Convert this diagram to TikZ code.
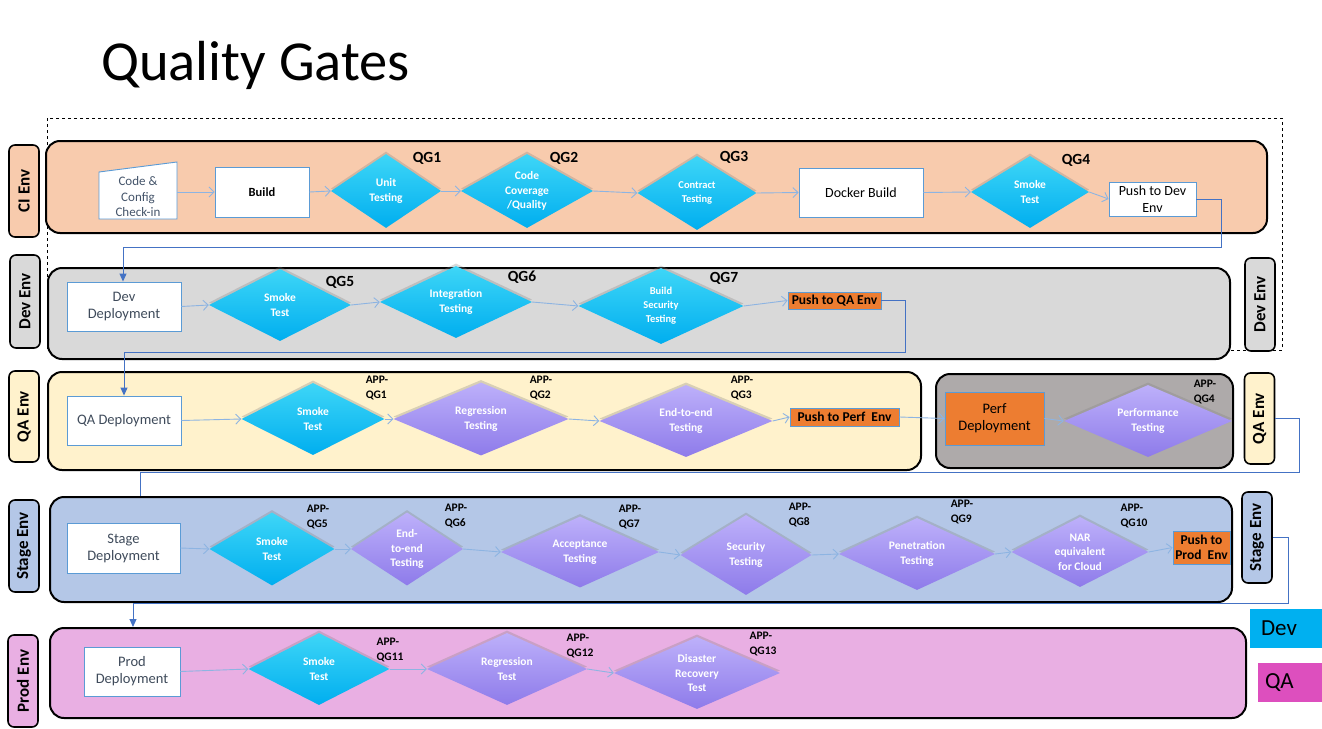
\documentclass[tikz,border=0pt]{standalone}
\usepackage{fontspec}
\setmainfont{Carlito}
\usepackage{xcolor}
\definecolor{ciFill}{HTML}{F8CBAD}
\definecolor{devFill}{HTML}{D9D9D9}
\definecolor{qaFill}{HTML}{FFF2CC}
\definecolor{perfFill}{HTML}{AEAAAA}
\definecolor{stageFill}{HTML}{B4C7E7}
\definecolor{prodFill}{HTML}{E9AFE3}
\definecolor{boxblue}{HTML}{5B9BD5}
\definecolor{flowblue}{HTML}{8DB4E2}
\definecolor{hopblue}{HTML}{4472C4}
\definecolor{pushorange}{HTML}{ED7D31}
\definecolor{stepgrey}{HTML}{3F4B5B}
\definecolor{chkText}{HTML}{44546A}
\definecolor{cyanTop}{HTML}{3ED6F7}
\definecolor{cyanBot}{HTML}{00AEEF}
\definecolor{lilacTop}{HTML}{BDB0FA}
\definecolor{lilacBot}{HTML}{8E7BEA}
\definecolor{keyCyan}{HTML}{00B0F0}
\definecolor{keyPink}{HTML}{DD4FBE}
\usetikzlibrary{shapes.geometric, arrows.meta, shadows}

\begin{document}
\begin{tikzpicture}[x=1pt, y=-1pt,
	envrow/.style={draw=black, line width=2pt, rounded corners=14pt, inner sep=0pt},
	envtag/.style={draw=black, line width=1.6pt, rounded corners=6pt, rotate=90, minimum height=30pt, inner sep=0pt, font=\fontsize{17}{19}\selectfont\bfseries},
	stepbox/.style={draw=boxblue, line width=0.9pt, fill=white, inner sep=1pt, align=center, text=stepgrey, font=\fontsize{14.5}{17}\selectfont},
	pushbox/.style={stepbox, fill=pushorange, text=black, font=\fontsize{13.5}{15.5}\selectfont\bfseries},
	gate/.style={diamond, draw=none, inner sep=0pt, drop shadow={shadow xshift=0pt, shadow yshift=2.5pt, opacity=0.3}},
	devgate/.style={gate, top color=cyanTop, bottom color=cyanBot},
	qagate/.style={gate, top color=lilacTop, bottom color=lilacBot},
	gatetext/.style={text=white, align=center, inner sep=0pt, font=\fontsize{11.5}{14.5}\selectfont\bfseries},
	qgtag/.style={inner sep=0pt, font=\fontsize{15.5}{17}\selectfont\bfseries},
	apptag/.style={align=left, inner sep=0pt, font=\fontsize{11.5}{15.5}\selectfont\bfseries},
	flow/.style={draw=flowblue, line width=0.9pt, -{Straight Barb[length=5pt, width=10pt]}},
	hop/.style={draw=hopblue, line width=1pt},
	hoparr/.style={hop, -{Triangle[length=8pt, width=7pt]}},
	key/.style={minimum height=39pt, inner sep=0pt, align=left, text width=50pt, text=black, font=\fontsize{23}{25}\selectfont}
	]
	\useasboundingbox (0,0) rectangle (1322,728);

	% title and dashed frame
	\node[anchor=base west, inner sep=0pt, font=\fontsize{56.5}{62}\selectfont] (title) at (101,80) {Quality Gates};
	\draw[dashed, line width=0.8pt] (47,118) rectangle (1282,350);

	% environment rows
	\node[envrow, fill=ciFill, minimum width=1221pt, minimum height=92pt] (ciRow) at (656.5,187) {};
	\node[envrow, fill=devFill, minimum width=1182pt, minimum height=91pt] (devRow) at (639,313.5) {};
	\node[envrow, fill=qaFill, minimum width=873pt, minimum height=98pt] (qaRow) at (484.5,421) {};
	\node[envrow, fill=perfFill, minimum width=297pt, minimum height=94pt] (perfRow) at (1084.5,421) {};
	\node[envrow, fill=stageFill, minimum width=1182pt, minimum height=105pt] (stgRow) at (641,549.5) {};
	\node[envrow, fill=prodFill, minimum width=1196pt, minimum height=90pt] (prodRow) at (648,673) {};

	% side tags
	\node[envtag, fill=ciFill, minimum width=92pt] (ciL) at (24,191) {CI Env};
	\node[envtag, fill=devFill, minimum width=93pt] (devL) at (25,301.5) {Dev Env};
	\node[envtag, fill=devFill, minimum width=93pt] (devR) at (1260,304.5) {Dev Env};
	\node[envtag, fill=qaFill, minimum width=91pt] (qaL) at (24,416.5) {QA Env};
	\node[envtag, fill=qaFill, minimum width=91pt] (qaR) at (1259.5,418.5) {QA Env};
	\node[envtag, fill=stageFill, minimum width=92pt] (stgL) at (24,546) {Stage Env};
	\node[envtag, fill=stageFill, minimum width=91pt] (stgR) at (1257,537.5) {Stage Env};
	\node[envtag, fill=prodFill, minimum width=92pt] (prodL) at (23,681) {Prod Env};

	% CI Env
	\filldraw[draw=boxblue, line width=0.9pt, fill=white] (99,219) -- (177,219) -- (177,162) -- (99,172) -- cycle;
	\node[stepbox, draw=none, fill=none, minimum width=78pt, minimum height=46pt, text=chkText, font=\fontsize{13}{15.5}\selectfont] (chk) at (138,197) {Code \&\\Config\\Check-in};
	\node[stepbox, text=black, minimum width=94pt, minimum height=50pt, font=\fontsize{12.5}{15}\selectfont\bfseries] (build) at (262,192) {Build};
	\node[devgate, minimum width=110pt, minimum height=74pt, label={[gatetext]center:Unit\\Testing}] (unit) at (386,191) {};
	\node[devgate, minimum width=132pt, minimum height=74pt, label={[gatetext]center:Code\\Coverage\\/Quality}] (cov) at (527,191) {};
	\node[devgate, minimum width=119pt, minimum height=74pt, label={[gatetext, font=\fontsize{10.5}{14}\selectfont\bfseries]center:Contract\\Testing}] (contract) at (697,193) {};
	\node[stepbox, text=black, minimum width=124pt, minimum height=49pt, font=\fontsize{14}{16.5}\selectfont] (docker) at (861,192.5) {Docker Build};
	\node[devgate, minimum width=118pt, minimum height=72pt, label={[gatetext]center:Smoke\\Test}] (smokeCI) at (1030,192) {};
	\node[stepbox, text=black, minimum width=87pt, minimum height=34pt, font=\fontsize{14}{16.5}\selectfont] (pushDev) at (1152.5,199) {Push to Dev\\Env};

	% Dev Env
	\node[stepbox, minimum width=114pt, minimum height=49pt] (devDep) at (124,306.5) {Dev\\Deployment};
	\node[devgate, minimum width=142pt, minimum height=72pt, label={[gatetext]center:Smoke\\Test}] (smokeDev) at (280,305) {};
	\node[devgate, minimum width=152pt, minimum height=72pt, label={[gatetext]center:Integration\\Testing}] (integ) at (456,302) {};
	\node[devgate, minimum width=165pt, minimum height=76pt, label={[gatetext, font=\fontsize{10.5}{14}\selectfont\bfseries]center:Build\\Security\\Testing}] (bsec) at (661,306) {};
	\node[pushbox, minimum width=93pt, minimum height=17pt] (pushQA) at (834.5,300.5) {Push to QA Env};

	% QA Env and perf
	\node[stepbox, minimum width=114pt, minimum height=49pt] (qaDep) at (124,420.5) {QA Deployment};
	\node[devgate, minimum width=143pt, minimum height=72pt, label={[gatetext]center:Smoke\\Test}] (smokeQA) at (313,419) {};
	\node[qagate, minimum width=175pt, minimum height=73pt, label={[gatetext]center:Regression\\Testing}] (regQA) at (481,419) {};
	\node[qagate, minimum width=173pt, minimum height=72pt, label={[gatetext]center:End-to-end\\Testing}] (e2eQA) at (686,421) {};
	\node[pushbox, minimum width=109pt, minimum height=18pt] (pushPerf) at (844.5,417) {Push to Perf~~Env};
	\node[stepbox, fill=pushorange, text=black, minimum width=99pt, minimum height=53pt] (perfDep) at (994.5,418.5) {Perf\\Deployment};
	\node[qagate, minimum width=168pt, minimum height=72pt, label={[gatetext]center:Performance\\Testing}] (perfT) at (1148,421) {};

	% Stage Env
	\node[stepbox, minimum width=113pt, minimum height=50pt] (stgDep) at (123.5,548) {Stage\\Deployment};
	\node[devgate, minimum width=125pt, minimum height=73pt, label={[gatetext]center:Smoke\\Test}] (smokeStg) at (272,549) {};
	\node[qagate, minimum width=112pt, minimum height=73pt, label={[gatetext]center:End-\\to-end\\Testing}] (e2eStg) at (407,549) {};
	\node[qagate, minimum width=158pt, minimum height=71pt, label={[gatetext]center:Acceptance\\Testing}] (accept) at (580,552) {};
	\node[qagate, minimum width=131pt, minimum height=80pt, label={[gatetext]center:Security\\Testing}] (secur) at (746,555) {};
	\node[qagate, minimum width=156pt, minimum height=72pt, label={[gatetext]center:Penetration\\Testing}] (penet) at (917,554) {};
	\node[qagate, minimum width=137pt, minimum height=70pt, label={[gatetext]center:NAR\\equivalent\\for Cloud}] (nar) at (1080,552) {};
	\node[pushbox, minimum width=57pt, minimum height=33pt] (pushProd) at (1201.5,547.5) {Push to\\Prod~~Env};

	% Prod Env
	\node[stepbox, minimum width=96pt, minimum height=49pt] (prodDep) at (132,671.5) {Prod\\Deployment};
	\node[devgate, minimum width=141pt, minimum height=72pt, label={[gatetext]center:Smoke\\Test}] (smokeProd) at (319,669) {};
	\node[qagate, minimum width=160pt, minimum height=72pt, label={[gatetext]center:Regression\\Test}] (regProd) at (507,669) {};
	\node[qagate, minimum width=166pt, minimum height=72pt, label={[gatetext]center:Disaster\\Recovery\\Test}] (disas) at (697,673) {};

	% gate tags
	\node[qgtag] (qg1) at (427,158) {QG1};
	\node[qgtag] (qg2) at (564,158) {QG2};
	\node[qgtag] (qg3) at (734,157) {QG3};
	\node[qgtag] (qg4) at (1076,160) {QG4};
	\node[qgtag] (qg5) at (340,282) {QG5};
	\node[qgtag] (qg6) at (522,277) {QG6};
	\node[qgtag] (qg7) at (724,278) {QG7};
	\node[apptag] (app1) at (377,388) {APP-\\QG1};
	\node[apptag] (app2) at (541,388) {APP-\\QG2};
	\node[apptag] (app3) at (742,388) {APP-\\QG3};
	\node[apptag] (app4) at (1205,392) {APP-\\QG4};
	\node[apptag] (app5) at (318,517) {APP-\\QG5};
	\node[apptag] (app6) at (456,516) {APP-\\QG6};
	\node[apptag] (app7) at (630,517) {APP-\\QG7};
	\node[apptag] (app8) at (800,515) {APP-\\QG8};
	\node[apptag] (app9) at (962,512) {APP-\\QG9};
	\node[apptag] (app10) at (1134,516) {APP-\\QG10};
	\node[apptag] (app11) at (390,650) {APP-\\QG11};
	\node[apptag] (app12) at (580,646) {APP-\\QG12};
	\node[apptag] (app13) at (763,644) {APP-\\QG13};

	% flow inside rows
	\draw[flow] (chk.east |- build.west) -- (build.west);
	\draw[flow] (build.east) -- (unit.west);
	\draw[flow] (unit.east) -- (cov.west);
	\draw[flow] (cov.east) -- (contract.west);
	\draw[flow] (contract.east) -- (docker.west);
	\draw[flow] (docker.east) -- (smokeCI.west);
	\draw[flow] (smokeCI.east) -- (pushDev.west);
	\draw[flow] (devDep.east) -- (smokeDev.west);
	\draw[flow] (smokeDev.east) -- (integ.west);
	\draw[flow] (integ.east) -- (bsec.west);
	\draw[flow] (bsec.east) -- (pushQA.west);
	\draw[flow] (qaDep.east) -- (smokeQA.west);
	\draw[flow] (smokeQA.east) -- (regQA.west);
	\draw[flow] (regQA.east) -- (e2eQA.west);
	\draw[flow] (e2eQA.east) -- (pushPerf.west);
	\draw[flow] (pushPerf.east) -- (perfDep.west);
	\draw[flow] (perfDep.east) -- (perfT.west);
	\draw[flow] (stgDep.east) -- (smokeStg.west);
	\draw[flow] (smokeStg.east) -- (e2eStg.west);
	\draw[flow] (e2eStg.east) -- (accept.west);
	\draw[flow] (accept.east) -- (secur.west);
	\draw[flow] (secur.east) -- (penet.west);
	\draw[flow] (penet.east) -- (nar.west);
	\draw[flow] (nar.east) -- (pushProd.west);
	\draw[flow] (prodDep.east) -- (smokeProd.west);
	\draw[flow] (smokeProd.east) -- (regProd.west);
	\draw[flow] (regProd.east) -- (disas.west);

	% hand-over between environments
	\coordinate (ciTurn) at (123,247);
	\coordinate (devTurn) at (124,352);
	\coordinate (qaTurn) at (140,472);
	\coordinate (stgTurn) at (133,603);
	\draw[hoparr] (pushDev.east) -- ++(25,0) |- (ciTurn) -- (ciTurn |- devDep.north);
	\draw[hoparr] (pushQA.east) -- ++(24,0) |- (devTurn) -- (devTurn |- qaDep.north);
	\draw[hop] (qaR.south) -- ++(24,0) |- (qaTurn) -- (qaTurn |- stgRow.north);
	\draw[hoparr] (stgR.south) -- ++(16,0) |- (stgTurn) -- (stgTurn |- prodRow.north);

	% legend
	\node[key, fill=keyCyan, minimum width=72pt] (devKey) at (1286,628.5) {Dev};
	\node[key, fill=keyPink, minimum width=64pt] (qaKey) at (1290,682.5) {QA};
\end{tikzpicture}
\end{document}
